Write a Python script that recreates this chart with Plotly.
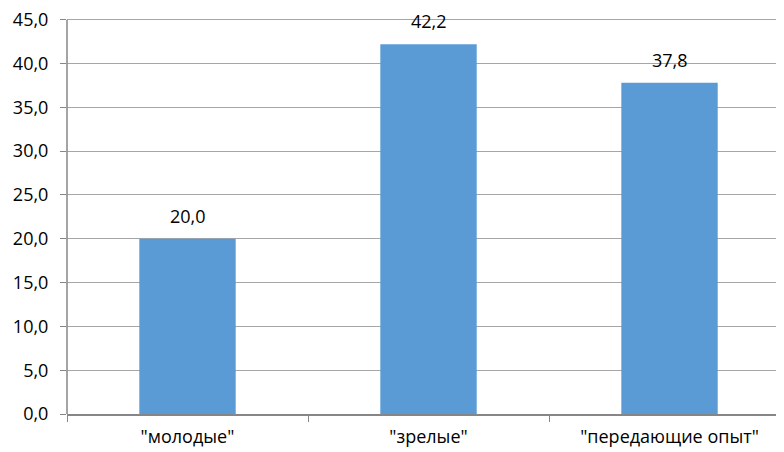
import plotly.graph_objects as go

categories = ['"молодые"', '"зрелые"', '"передающие опыт"']
values = [20.0, 42.2, 37.8]
y_ticks = [0, 5, 10, 15, 20, 25, 30, 35, 40, 45]
y_tick_text = ["0,0", "5,0", "10,0", "15,0", "20,0", "25,0", "30,0", "35,0", "40,0", "45,0"]
y_max = 45

fig = go.Figure()
fig.add_trace(go.Bar(
    x=categories, y=values, width=0.4,
    marker=dict(color="#5B9BD5", line=dict(width=0)),
    hoverinfo="skip",
))
for c, v in zip(categories, values):
    fig.add_annotation(x=c, y=v, text=f"{v:.1f}".replace(".", ","),
                       showarrow=False, yanchor="bottom", yshift=9,
                       font=dict(size=18, color="#000000"))

fig.add_shape(type="line", xref="paper", yref="y", x0=0, x1=0, y0=0, y1=y_max,
              line=dict(color="#868686", width=1.5), layer="above")

fig.update_layout(
    width=776, height=444,
    margin=dict(l=59, r=0, t=2.7, b=38),
    paper_bgcolor="white", plot_bgcolor="white",
    font=dict(family="Open Sans, sans-serif", size=18, color="#000000"),
    showlegend=False,
)
fig.update_xaxes(
    type="category", range=[-0.5, 2.475],
    showline=True, linecolor="#868686", linewidth=1.5,
    ticks="outside", tickson="boundaries", ticklen=6, tickcolor="#868686",
    showgrid=False, tickfont=dict(size=18), ticklabelstandoff=6,
    ticklabeloverflow="allow",
)
fig.update_yaxes(
    range=[0, 46], tickmode="array", tickvals=y_ticks, ticktext=y_tick_text,
    showline=False,
    ticks="outside", ticklen=6, tickcolor="#868686",
    showgrid=True, gridcolor="#A6A6A6", gridwidth=1,
    zeroline=False, tickfont=dict(size=18), ticklabelstandoff=8,
    ticklabeloverflow="allow",
)
fig.write_html("out.html")
